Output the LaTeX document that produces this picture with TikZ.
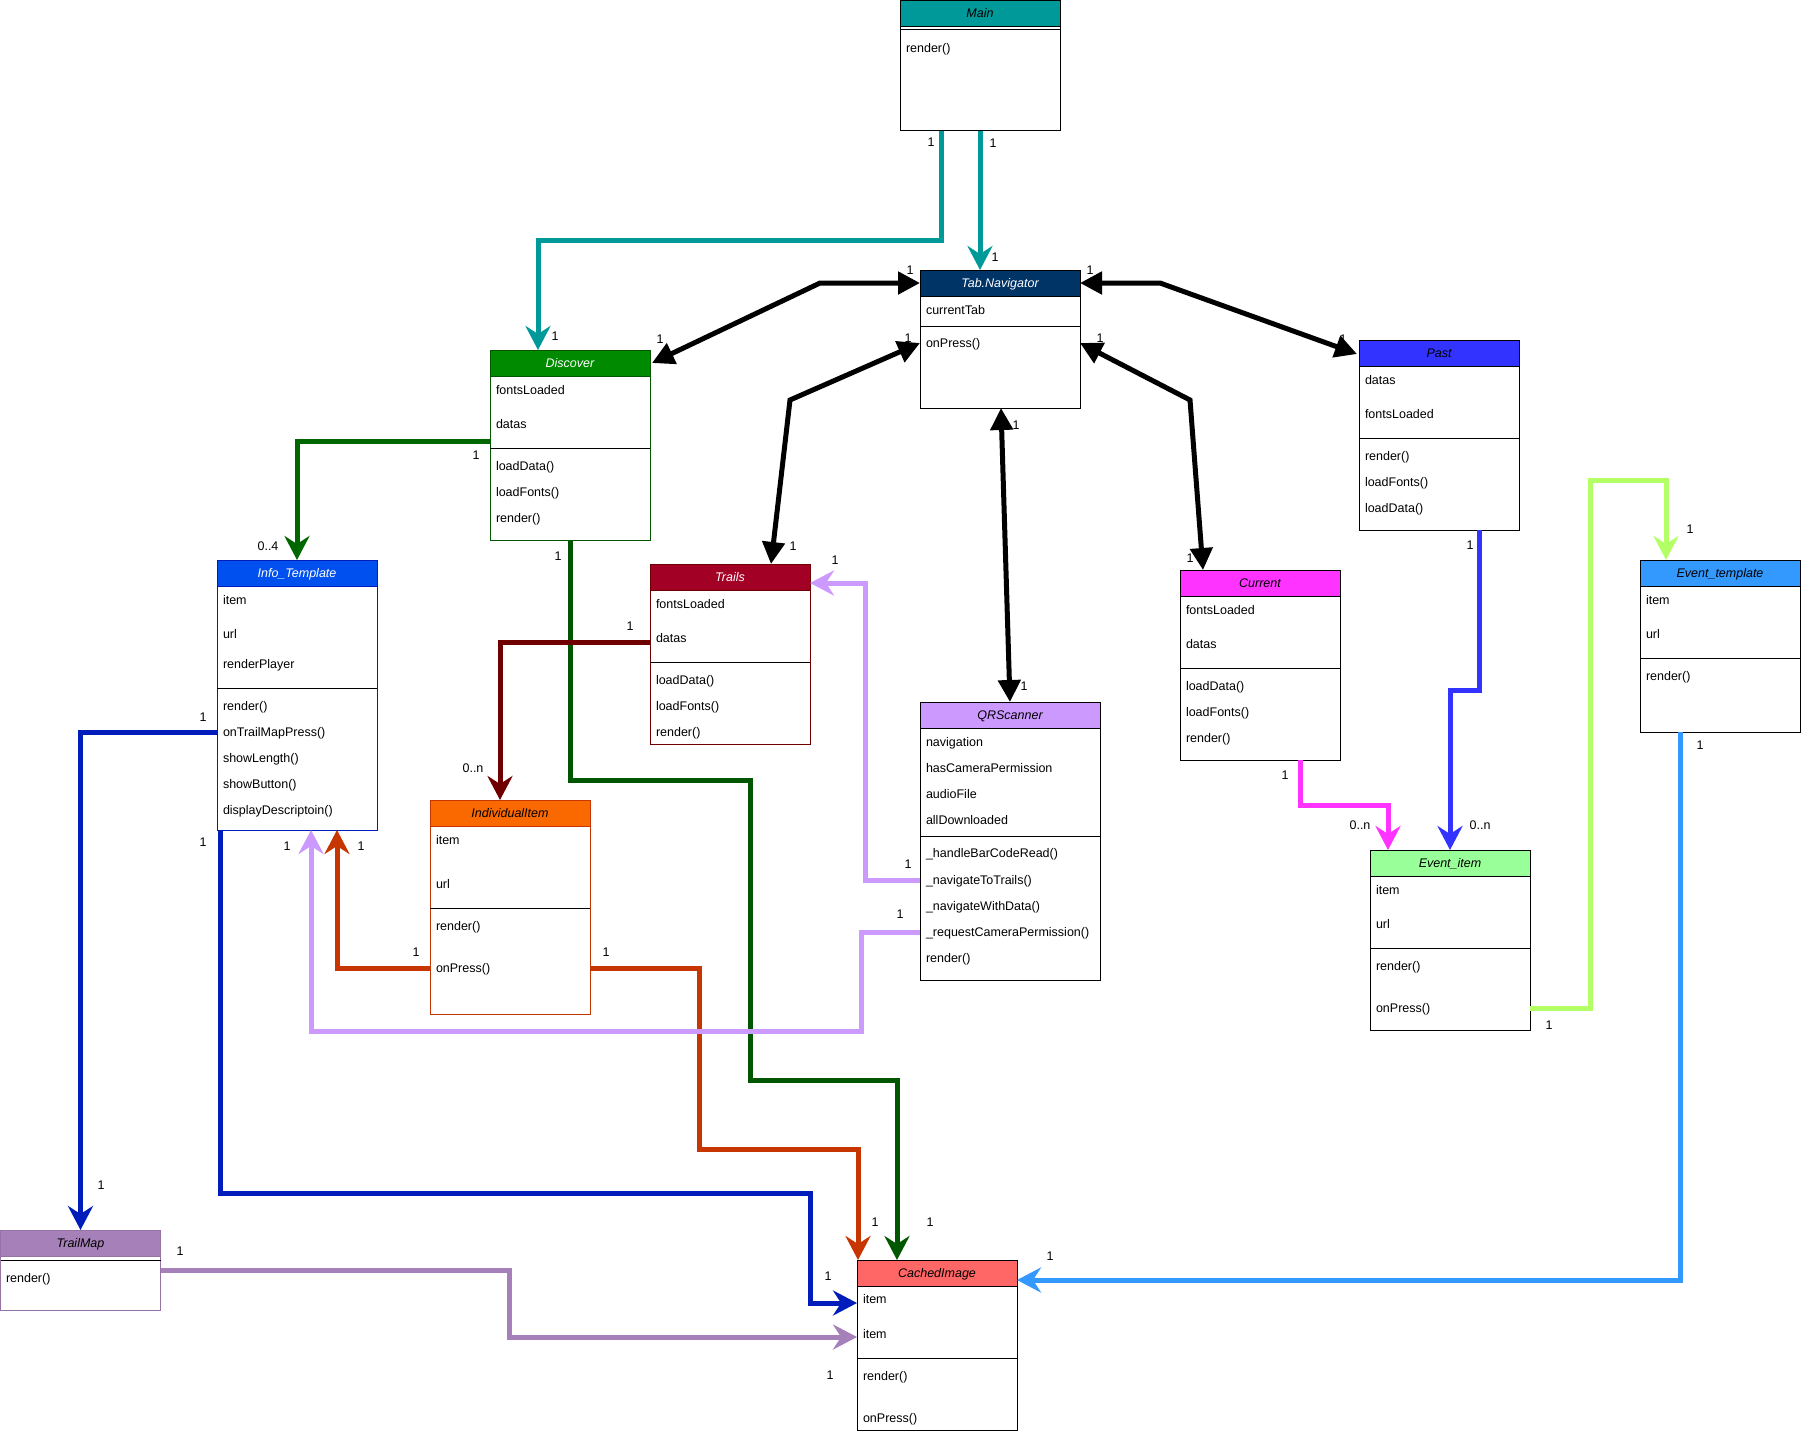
\documentclass[tikz,border=0pt]{standalone}
\usepackage{fontspec}
\setmainfont{Liberation Sans}
\usetikzlibrary{arrows.meta,calc}

\definecolor{cTeal}{HTML}{009999}
\definecolor{cNavy}{HTML}{003366}
\definecolor{cGreen}{HTML}{008A00}
\definecolor{cGreenA}{HTML}{006600}
\definecolor{cGreenD}{HTML}{005700}
\definecolor{cCrimson}{HTML}{A20025}
\definecolor{cMaroon}{HTML}{6F0000}
\definecolor{cCobalt}{HTML}{0050EF}
\definecolor{cCobaltD}{HTML}{001DBC}
\definecolor{cOrange}{HTML}{FA6800}
\definecolor{cRust}{HTML}{C73500}
\definecolor{cLilac}{HTML}{CC99FF}
\definecolor{cBlue}{HTML}{3333FF}
\definecolor{cMagenta}{HTML}{FF33FF}
\definecolor{cSky}{HTML}{3399FF}
\definecolor{cMint}{HTML}{99FF99}
\definecolor{cLime}{HTML}{B3FF66}
\definecolor{cSalmon}{HTML}{FF6666}
\definecolor{cMauve}{HTML}{A680B8}
\definecolor{cMauveD}{HTML}{9673A6}

% class box: name, top-left, width, height, header fill, border colour, title
\newcommand{\umlclass}[7]{%
  \node[classframe, draw=#6, minimum width=#3, minimum height=#4, anchor=north west] (#1) at (#2) {};
  \node[classhead, fill=#5, draw=#6, minimum width=#3, anchor=north west] (#1-h) at (#2) {#7};
}
\newcommand{\mem}[4]{\node[member] (#1) at (#2,#3) {#4};}
\newcommand{\sepat}[3]{\draw[sepline] (#1,#3) -- (#2,#3);}

\begin{document}
\begin{tikzpicture}[x=0.5pt, y=-0.5pt,
  every node/.style={font=\fontsize{6.25}{7.5}\selectfont, inner sep=0pt, outer sep=0pt},
  classframe/.style={draw, fill=white, line width=0.5pt, rectangle},
  classhead/.style={draw, line width=0.5pt, rectangle, minimum height=13pt,
    font=\fontsize{6.25}{7.5}\selectfont\itshape, text height=4.5pt, text depth=0pt},
  member/.style={anchor=west, text height=4.5pt, text depth=0pt},
  mult/.style={text height=4.5pt, text depth=0pt},
  sepline/.style={line width=0.5pt, draw=black},
  assoc/.style={line width=2.5pt, draw=#1, -{Stealth[length=12pt,width=12.5pt,inset=4pt]}},
  nav/.style={line width=2.5pt, draw=black,
    {Triangle[length=11pt,width=11pt]}-{Triangle[length=11pt,width=11pt]}},
]
\useasboundingbox (0,0) rectangle (1802,1434);

% ---------------- classes ----------------
\umlclass{main}{900,0.5}{80pt}{65pt}{cTeal}{black}{Main}
\sepat{900}{1060}{30}
\mem{main-m1}{906}{48}{render()}

\umlclass{tabnav}{920,270}{80pt}{69pt}{cNavy}{black}{\color{white}Tab.Navigator}
\mem{tabnav-a1}{926}{310}{currentTab}
\sepat{920}{1080}{326}
\mem{tabnav-m1}{926}{343}{onPress()}

\umlclass{discover}{490,350}{80pt}{95pt}{cGreen}{cGreenD}{\color{white}Discover}
\mem{discover-a1}{496}{389.7}{fontsLoaded}
\mem{discover-a2}{496}{423.7}{datas}
\sepat{490}{650}{448.3}
\mem{discover-m1}{496}{465.7}{loadData()}
\mem{discover-m2}{496}{491.7}{loadFonts()}
\mem{discover-m3}{496}{517.7}{render()}

\umlclass{trails}{650,564}{80pt}{90pt}{cCrimson}{cMaroon}{\color{white}Trails}
\mem{trails-a1}{656}{603.7}{fontsLoaded}
\mem{trails-a2}{656}{637.7}{datas}
\sepat{650}{810}{662.3}
\mem{trails-m1}{656}{680}{loadData()}
\mem{trails-m2}{656}{705.7}{loadFonts()}
\mem{trails-m3}{656}{731.7}{render()}

\umlclass{infot}{217,560}{80pt}{135pt}{cCobalt}{cCobaltD}{\color{white}Info\_Template}
\mem{infot-a1}{223}{599.7}{item}
\mem{infot-a2}{223}{633.7}{url}
\mem{infot-a3}{223}{663.7}{renderPlayer}
\sepat{217}{377}{688.3}
\mem{infot-m1}{223}{705.7}{render()}
\mem{infot-m2}{223}{731.7}{onTrailMapPress()}
\mem{infot-m3}{223}{757.7}{showLength()}
\mem{infot-m4}{223}{783.7}{showButton()}
\mem{infot-m5}{223}{809.7}{displayDescriptoin()}

\umlclass{indiv}{430,800}{80pt}{107pt}{cOrange}{cRust}{IndividualItem}
\mem{indiv-a1}{436}{839.7}{item}
\mem{indiv-a2}{436}{883.7}{url}
\sepat{430}{590}{908.3}
\mem{indiv-m1}{436}{925.7}{render()}
\mem{indiv-m2}{436}{967.7}{onPress()}

\umlclass{qr}{920,702}{90pt}{139pt}{cLilac}{black}{QRScanner}
\mem{qr-a1}{926}{742}{navigation}
\mem{qr-a2}{926}{768}{hasCameraPermission}
\mem{qr-a3}{926}{794}{audioFile}
\mem{qr-a4}{926}{820}{allDownloaded}
\sepat{920}{1100}{836}
\mem{qr-m1}{926}{853}{\_handleBarCodeRead()}
\mem{qr-m2}{926}{880}{\_navigateToTrails()}
\mem{qr-m3}{926}{906}{\_navigateWithData()}
\mem{qr-m4}{926}{932}{\_requestCameraPermission()}
\mem{qr-m5}{926}{958}{render()}

\umlclass{past}{1359,340}{80pt}{95pt}{cBlue}{black}{Past}
\mem{past-a1}{1365}{379.7}{datas}
\mem{past-a2}{1365}{413.7}{fontsLoaded}
\sepat{1359}{1519}{438.3}
\mem{past-m1}{1365}{455.7}{render()}
\mem{past-m2}{1365}{481.7}{loadFonts()}
\mem{past-m3}{1365}{507.7}{loadData()}

\umlclass{current}{1180,570}{80pt}{95pt}{cMagenta}{black}{Current}
\mem{current-a1}{1186}{609.7}{fontsLoaded}
\mem{current-a2}{1186}{643.7}{datas}
\sepat{1180}{1340}{668.3}
\mem{current-m1}{1186}{685.7}{loadData()}
\mem{current-m2}{1186}{711.7}{loadFonts()}
\mem{current-m3}{1186}{737.7}{render()}

\umlclass{evtemplate}{1640,560}{80pt}{86pt}{cSky}{black}{Event\_template}
\mem{evtemplate-a1}{1646}{599.7}{item}
\mem{evtemplate-a2}{1646}{633.5}{url}
\sepat{1640}{1800}{658.3}
\mem{evtemplate-m1}{1646}{675.7}{render()}

\umlclass{evitem}{1370,850}{80pt}{90pt}{cMint}{black}{Event\_item}
\mem{evitem-a1}{1376}{889.5}{item}
\mem{evitem-a2}{1376}{923.6}{url}
\sepat{1370}{1530}{948.3}
\mem{evitem-m1}{1376}{965.7}{render()}
\mem{evitem-m2}{1376}{1007.5}{onPress()}

\umlclass{cached}{857,1260}{80pt}{85pt}{cSalmon}{black}{CachedImage}
\mem{cached-a1}{863}{1299.3}{item}
\mem{cached-a2}{863}{1333.7}{item}
\sepat{857}{1017}{1358.3}
\mem{cached-m1}{863}{1375.7}{render()}
\mem{cached-m2}{863}{1418}{onPress()}

\umlclass{trailmap}{0.5,1230}{80pt}{40pt}{cMauve}{cMauveD}{TrailMap}
\sepat{0.5}{160.5}{1260}
\mem{trailmap-m1}{6}{1277.7}{render()}

% ---------------- associations ----------------
% Main
\draw[assoc=cTeal] ($(main.south west)+(41,0)$) -- (941,240) -- (538,240) -- ($(discover.north west)+(48,0)$);
\draw[assoc=cTeal] ($(main.south west)+(80,0)$) -- ($(tabnav.north west)+(60,0)$);
% Tab.Navigator, navigable both ways
\draw[nav] ($(tabnav.north west)+(0,13)$) -- (820,283) -- ($(discover.north east)+(2,13)$);
\draw[nav] ($(tabnav.north west)+(0,73)$) -- (790,400) -- ($(trails.north west)+(121,0)$);
\draw[nav] ($(tabnav.north east)+(0,13)$) -- (1160,283) -- ($(past.north west)+(-2,14)$);
\draw[nav] ($(tabnav.north east)+(0,73)$) -- (1190,400) -- ($(current.north west)+(23,0)$);
\draw[nav] ($(tabnav.south west)+(81,0)$) -- ($(qr.north west)+(90,0)$);
% Discover
\draw[assoc=cGreenA] ($(discover.north west)+(0,91)$) -- (297,441) -- ($(infot.north west)+(80,0)$);
\draw[assoc=cGreenD] ($(discover.south west)+(80,0)$) -- (570,780) -- (750,780) -- (750,1080) -- (897,1080) -- ($(cached.north west)+(40,0)$);
% Trails
\draw[assoc=cMaroon] ($(trails.north west)+(0,78)$) -- (500,642) -- ($(indiv.north west)+(70,0)$);
% IndividualItem
\draw[assoc=cRust] ($(indiv.north west)+(0,168)$) -- (337,968) -- ($(infot.south west)+(120,0)$);
\draw[assoc=cRust] ($(indiv.north east)+(0,168)$) -- (699,968) -- (699,1149) -- (858,1149) -- ($(cached.north west)+(1,0)$);
% QRScanner
\draw[assoc=cLilac] ($(qr.north west)+(0,178)$) -- (865,880) -- (865,583) -- ($(trails.north east)+(0,19)$);
\draw[assoc=cLilac] ($(qr.north west)+(0,230)$) -- (861,932) -- (861,1031) -- (311,1031) -- ($(infot.south west)+(94,0)$);
% Info_Template
\draw[assoc=cCobaltD] ($(infot.north west)+(0,172)$) -- (80.5,732) -- ($(trailmap.north west)+(80,0)$);
\draw[assoc=cCobaltD] ($(infot.south west)+(3,0)$) -- (220,1193) -- (810,1193) -- (810,1303) -- ($(cached.north west)+(0,43)$);
% TrailMap
\draw[assoc=cMauve] ($(trailmap.north east)+(0,40)$) -- (509,1270) -- (509,1337) -- ($(cached.north west)+(0,77)$);
% Current, Past
\draw[assoc=cMagenta] ($(current.south west)+(120,0)$) -- (1300,805) -- (1388,805) -- ($(evitem.north west)+(18,0)$);
\draw[assoc=cBlue] ($(past.south west)+(120,0)$) -- (1479,690) -- (1450,690) -- ($(evitem.north west)+(80,0)$);
% Event_item, Event_template
\draw[assoc=cLime] ($(evitem.north east)+(0,158)$) -- (1590,1008) -- (1590,480) -- (1666,480) -- ($(evtemplate.north west)+(26,0)$);
\draw[assoc=cSky] ($(evtemplate.south west)+(40,0)$) -- (1680,1280) -- ($(cached.north east)+(0,20)$);

% ---------------- multiplicities ----------------
\node[mult] (k1) at (931,142) {1};
\node[mult] (k2) at (993,143) {1};
\node[mult] (k3) at (995,257) {1};
\node[mult] (k4) at (555,336) {1};
\node[mult] (k5) at (910,270) {1};
\node[mult] (k6) at (660,339) {1};
\node[mult] (k7) at (908,338) {1};
\node[mult] (k8) at (793,546) {1};
\node[mult] (k9) at (1090,270) {1};
\node[mult] (k10) at (1343,339) {1};
\node[mult] (k11) at (1100,338) {1};
\node[mult] (k12) at (1190,558) {1};
\node[mult] (k13) at (1016,425) {1};
\node[mult] (k14) at (1024,686) {1};
\node[mult] (k15) at (476,455) {1};
\node[mult] (k16) at (268,546) {0..4};
\node[mult] (k17) at (558,556) {1};
\node[mult] (k18) at (930,1222) {1};
\node[mult] (k19) at (630,626) {1};
\node[mult] (k20) at (473,768) {0..n};
\node[mult] (k21) at (416,952) {1};
\node[mult] (k22) at (361,846) {1};
\node[mult] (k23) at (606,952) {1};
\node[mult] (k24) at (875,1222) {1};
\node[mult] (k25) at (908,864) {1};
\node[mult] (k26) at (835,560) {1};
\node[mult] (k27) at (900,914) {1};
\node[mult] (k28) at (287,846) {1};
\node[mult] (k29) at (203,717) {1};
\node[mult] (k30) at (101,1185) {1};
\node[mult] (k31) at (203,842) {1};
\node[mult] (k32) at (828,1276) {1};
\node[mult] (k33) at (180,1251) {1};
\node[mult] (k34) at (830,1375) {1};
\node[mult] (k35) at (1285,775) {1};
\node[mult] (k36) at (1360,825) {0..n};
\node[mult] (k37) at (1470,545) {1};
\node[mult] (k38) at (1480,825) {0..n};
\node[mult] (k39) at (1549,1025) {1};
\node[mult] (k40) at (1690,529) {1};
\node[mult] (k41) at (1700,745) {1};
\node[mult] (k42) at (1050,1256) {1};
\end{tikzpicture}
\end{document}
